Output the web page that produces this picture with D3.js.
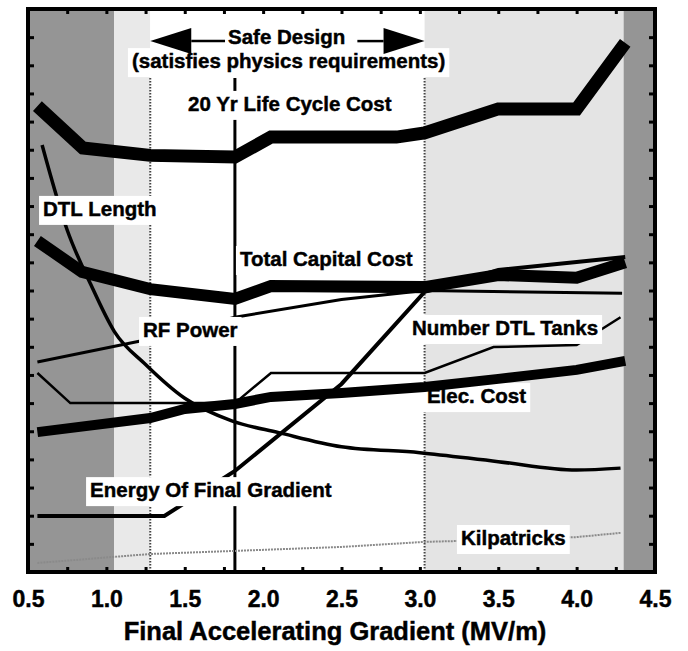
<!DOCTYPE html>
<html>
<head>
<meta charset="utf-8">
<title>Final Accelerating Gradient</title>
<script src="https://cdn.jsdelivr.net/npm/d3@7"></script>
<style>
body { margin: 0; background: #fff; }
text { font-family: "Liberation Sans", Arial, Helvetica, sans-serif; font-weight: bold; stroke: #000; stroke-width: 0.45px; }
</style>
</head>
<body>
<script>
// values; y axis has no units, so 0-20 relative scale
var lifeCycleX    = [0.56, 0.85, 1.28, 1.82, 2.05, 2.85, 3.03, 3.5, 4.0, 4.31];
var lifeCycleCost = [16.55, 15.06, 14.8, 14.74, 15.45, 15.45, 15.6, 16.45, 16.45, 18.8];

var capitalX    = [0.56, 0.845, 1.28, 1.82, 2.05, 3.03, 3.5, 4.0, 4.31];
var capitalCost = [11.76, 10.66, 10.05, 9.7, 10.16, 10.12, 10.55, 10.45, 11.0];

var elecX    = [0.56, 1.28, 1.5, 1.82, 2.05, 2.5, 3.03, 3.5, 4.0, 4.31];
var elecCost = [4.97, 5.47, 5.79, 5.97, 6.22, 6.36, 6.57, 6.86, 7.18, 7.5];

var energyX = [0.56, 1.37, 1.82, 2.5, 3.03, 3.5, 4.0, 4.31];
var energy  = [1.99, 1.99, 3.59, 6.68, 9.95, 10.73, 11.01, 11.19];

var rfX     = [0.56, 1.28, 1.82, 2.5, 3.03, 4.29];
var rfPower = [7.46, 8.28, 9.05, 9.68, 10.0, 9.9];

var dtlX      = [0.59, 0.75, 0.9, 1.05, 1.25, 1.5, 1.8, 2.1, 2.5, 3.0, 3.5, 4.0, 4.28];
var dtlLength = [15.17, 12.15, 10.22, 8.55, 7.37, 6.17, 5.37, 4.95, 4.45, 4.24, 3.92, 3.62, 3.69];

var tanksX   = [0.56, 0.77, 1.82, 2.05, 3.03, 3.47, 4.0, 4.28];
var dtlTanks = [7.07, 6.0, 6.0, 7.07, 7.07, 7.99, 8.06, 9.05];

var kilpX       = [0.56, 1.28, 1.82, 2.5, 3.03, 3.5, 4.0, 4.28];
var kilpatricks = [0.32, 0.64, 0.75, 0.89, 1.07, 1.14, 1.24, 1.39];

// shaded zones (gradient boundaries) and the chosen design point
var zoneEdges = [0.5, 1.05, 1.28, 3.03, 4.3, 4.5];
var designPoint = 1.82;

var xTickLabels = [0.5, 1.0, 1.5, 2.0, 2.5, 3.0, 3.5, 4.0, 4.5];

var labels = [
	{text: "Safe Design", x: 1.776, y: 18.76},
	{text: "(satisfies physics requirements)", x: 1.163, y: 17.9},
	{text: "20 Yr Life Cycle Cost", x: 1.521, y: 16.38},
	{text: "DTL Length", x: 0.596, y: 12.65},
	{text: "Total Capital Cost", x: 1.852, y: 10.87},
	{text: "RF Power", x: 1.234, y: 8.35},
	{text: "Number DTL Tanks", x: 2.95, y: 8.42},
	{text: "Elec. Cost", x: 3.045, y: 6.0},
	{text: "Energy Of Final Gradient", x: 0.896, y: 2.66},
	{text: "Kilpatricks", x: 3.262, y: 0.96}
];

var margin = {top: 9, right: 33, bottom: 79, left: 28},
	width = 688 - margin.left - margin.right,
	height = 651 - margin.top - margin.bottom;

var svg = d3.select("body").append("svg")
	.attr("width", 688)
	.attr("height", 651);

var g = svg.append("g")
	.attr("transform", "translate(" + margin.left + "," + margin.top + ")");

var x = d3.scaleLinear().domain([0.5, 4.5]).range([0, width]);
var y = d3.scaleLinear().domain([0, 20]).range([height, 0]);

// layers, bottom to top
var zoneG = g.append("g"),
	vlineG = g.append("g"),
	thinG = g.append("g"),
	boxG = g.append("g"),
	thickG = g.append("g"),
	arrowG = g.append("g"),
	textG = g.append("g"),
	axisG = g.append("g");

var zoneFill = ["#959595", "#e9e9e9", "#ffffff", "#e4e4e4", "#959595"];
zoneG.selectAll("rect")
	.data(d3.pairs(zoneEdges))
	.enter().append("rect")
	.attr("x", function(d) { return x(d[0]); })
	.attr("y", 0)
	.attr("width", function(d) { return x(d[1]) - x(d[0]); })
	.attr("height", height)
	.style("fill", function(d, i) { return zoneFill[i]; });

// dotted zone edges around the safe region + design point line
var lineTop = 17.55;
vlineG.selectAll("line.edge")
	.data([zoneEdges[2], zoneEdges[3]])
	.enter().append("line")
	.attr("class", "edge")
	.attr("x1", function(d) { return x(d); })
	.attr("x2", function(d) { return x(d); })
	.attr("y1", y(lineTop))
	.attr("y2", y(0))
	.style("stroke", "#444")
	.style("stroke-width", 2)
	.style("stroke-dasharray", "1.5,1.5");

vlineG.append("line")
	.attr("x1", x(designPoint)).attr("x2", x(designPoint))
	.attr("y1", y(lineTop)).attr("y2", y(0))
	.style("stroke", "#000")
	.style("stroke-width", 3);

var line = d3.line()
	.x(function(d) { return x(d[0]); })
	.y(function(d) { return y(d[1]); });

function drawSeries(layer, xs, ys, w, opts) {
	opts = opts || {};
	var l = opts.curve ? line.curve(opts.curve) : line.curve(d3.curveLinear);
	layer.append("path")
		.datum(d3.zip(xs, ys))
		.attr("d", l)
		.style("fill", "none")
		.style("stroke", opts.color || "#000")
		.style("stroke-width", w)
		.style("stroke-dasharray", opts.dash || null)
		.style("stroke-linejoin", "miter");
}

drawSeries(thinG, kilpX, kilpatricks, 2, {color: "#8a8a8a", dash: "2,1"});
drawSeries(thinG, dtlX, dtlLength, 3.5, {curve: d3.curveMonotoneX});
drawSeries(thinG, rfX, rfPower, 3);
drawSeries(thinG, tanksX, dtlTanks, 2.5);
drawSeries(thinG, energyX, energy, 4);

drawSeries(thickG, lifeCycleX, lifeCycleCost, 13);
drawSeries(thickG, capitalX, capitalCost, 12);
drawSeries(thickG, elecX, elecCost, 10);

// labels with white knock-out boxes
var fs = 20.5;
textG.selectAll("text")
	.data(labels)
	.enter().append("text")
	.attr("x", function(d) { return x(d.x); })
	.attr("y", function(d) { return y(d.y); })
	.style("font-size", fs + "px")
	.text(function(d) { return d.text; })
	.each(function(d) {
		var b = this.getBBox();
		d.box = b;
		boxG.append("rect")
			.attr("x", b.x - 4)
			.attr("y", b.y - 1)
			.attr("width", b.width + 8)
			.attr("height", b.height + 6)
			.style("fill", "#fff");
	});

// Safe Design arrows pointing out to the edges of the safe zone
var safeBox = labels[0].box,
	arrowY = y(18.86),
	headLen = 41, headHalf = 13;

function arrow(shaftStart, tip) {
	var dir = tip < shaftStart ? -1 : 1,
		base = tip - dir * headLen;
	arrowG.append("line")
		.attr("x1", shaftStart).attr("x2", base)
		.attr("y1", arrowY).attr("y2", arrowY)
		.style("stroke", "#000")
		.style("stroke-width", 2.5);
	arrowG.append("path")
		.attr("d", "M" + tip + "," + arrowY + "L" + base + "," + (arrowY - headHalf) +
			"L" + base + "," + (arrowY + headHalf) + "Z")
		.style("fill", "#000");
}
arrow(safeBox.x - 3, x(zoneEdges[2]));
arrow(safeBox.x + safeBox.width + 12, x(zoneEdges[3]));

// frame and inward ticks
function ticks(sel) {
	sel.select(".domain").remove();
	sel.selectAll(".tick line").style("stroke", "#000").style("stroke-width", 3);
}
var minorX = d3.range(3, 18).map(function(i) { return i * 0.25; });
var minorY = d3.range(1, 20);

axisG.append("g").call(d3.axisTop(x).tickValues(minorX).tickSize(-5).tickFormat("")).call(ticks);
axisG.append("g").attr("transform", "translate(0," + height + ")")
	.call(d3.axisBottom(x).tickValues(minorX).tickSize(-5).tickFormat("")).call(ticks);
axisG.append("g").call(d3.axisLeft(y).tickValues(minorY).tickSize(-6).tickFormat("")).call(ticks);
axisG.append("g").attr("transform", "translate(" + width + ",0)")
	.call(d3.axisRight(y).tickValues(minorY).tickSize(-6).tickFormat("")).call(ticks);

axisG.append("rect")
	.attr("width", width)
	.attr("height", height)
	.style("fill", "none")
	.style("stroke", "#000")
	.style("stroke-width", 4);

var xAxis = axisG.append("g")
	.attr("transform", "translate(0," + height + ")")
	.call(d3.axisBottom(x).tickValues(xTickLabels).tickSize(0).tickPadding(19).tickFormat(d3.format(".1f")));
xAxis.select(".domain").remove();
xAxis.selectAll("text")
	.attr("font-family", null)
	.style("font-size", "23px")
	.style("fill", "#000");

svg.append("text")
	.attr("x", 335)
	.attr("y", 640)
	.attr("text-anchor", "middle")
	.style("font-size", "25.5px")
	.text("Final Accelerating Gradient (MV/m)");
</script>
</body>
</html>
